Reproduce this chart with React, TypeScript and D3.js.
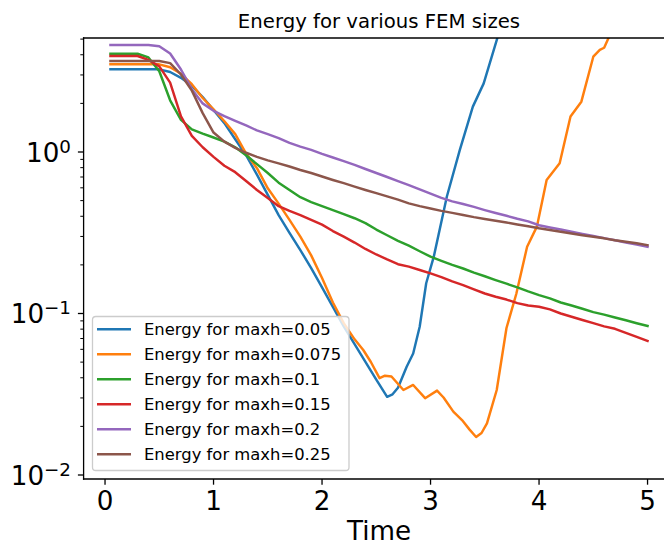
import React from "react";
import * as d3 from "d3";

// ---------- data ----------
const TIME = [
  0.05, 0.1, 0.2, 0.3, 0.4, 0.5, 0.6, 0.7, 0.8, 0.9,
  1.0, 1.1, 1.2, 1.3, 1.4, 1.5, 1.6, 1.7, 1.8, 1.9,
  2.0, 2.1, 2.2, 2.3, 2.4, 2.5, 2.6, 2.7, 2.8, 2.9,
  3.0, 3.1, 3.2, 3.3, 3.4, 3.5, 3.6, 3.7, 3.8, 3.9,
  4.0, 4.1, 4.2, 4.3, 4.4, 4.5, 4.6, 4.7, 4.8, 4.9, 5.0,
];

const TIME_005 = [
  0.05, 0.5, 0.6, 0.7, 0.8, 0.9, 1.0, 1.1, 1.2, 1.3, 1.4, 1.5, 1.6, 1.7, 1.8, 1.9,
  2.0, 2.1, 2.2, 2.3, 2.4, 2.5, 2.6, 2.65, 2.7, 2.78, 2.84, 2.9, 2.96, 3.03,
  3.15, 3.27, 3.39, 3.49, 3.61, 3.7,
];
const ENERGY_005 = [
  3.25, 3.25, 3.13, 2.88, 2.57, 2.19, 1.82, 1.51, 1.2, 0.955, 0.724, 0.543, 0.407, 0.316, 0.247, 0.191,
  0.145, 0.11, 0.0832, 0.0646, 0.0501, 0.0389, 0.0305, 0.0316, 0.0347, 0.0468, 0.0566, 0.0828, 0.154, 0.225,
  0.528, 1.03, 1.91, 2.66, 4.93, 7.94,
];

const TIME_0075 = [
  0.05, 0.5, 0.6, 0.7, 0.8, 0.9, 1.0, 1.1, 1.2, 1.3, 1.4, 1.5, 1.6, 1.7, 1.8, 1.9,
  2.0, 2.1, 2.2, 2.3, 2.38, 2.45, 2.53, 2.58, 2.64, 2.75, 2.84, 2.95, 3.06, 3.12,
  3.21, 3.29, 3.36, 3.42, 3.47, 3.52, 3.61, 3.7, 3.79, 3.89, 3.98, 4.07, 4.19,
  4.29, 4.39, 4.5, 4.56, 4.6, 4.65, 4.75,
];
const ENERGY_0075 = [
  3.49, 3.49, 3.35, 3.05, 2.63, 2.16, 1.84, 1.55, 1.29, 0.977, 0.794, 0.596, 0.479, 0.38, 0.299, 0.229,
  0.166, 0.117, 0.0871, 0.0692, 0.0594, 0.0501, 0.0398, 0.0412, 0.0407, 0.0336, 0.0361, 0.0299, 0.0333, 0.0302,
  0.0247, 0.0219, 0.0191, 0.0172, 0.0182, 0.0209, 0.0336, 0.0813, 0.132, 0.259, 0.345, 0.671, 0.851,
  1.66, 2.05, 3.89, 4.29, 4.42, 5.25, 7.94,
];

const ENERGY_01 = [
  4.06, 4.06, 4.06, 4.06, 3.85, 3.16, 2.09, 1.58, 1.38, 1.3,
  1.23, 1.16, 1.07, 0.955, 0.841, 0.741, 0.646, 0.582, 0.525, 0.49,
  0.462, 0.437, 0.412, 0.389, 0.363, 0.331, 0.305, 0.282, 0.263, 0.243,
  0.225, 0.212, 0.2, 0.19, 0.179, 0.17, 0.161, 0.153, 0.145, 0.137,
  0.13, 0.124, 0.117, 0.112, 0.107, 0.102, 0.0984, 0.0944, 0.0908, 0.0871, 0.0838,
];

const ENERGY_015 = [
  3.93, 3.93, 3.93, 3.93, 3.72, 3.39, 2.69, 1.66, 1.26, 1.07,
  0.933, 0.822, 0.75, 0.661, 0.582, 0.519, 0.462, 0.432, 0.407, 0.38,
  0.355, 0.324, 0.299, 0.275, 0.251, 0.232, 0.216, 0.202, 0.195, 0.186,
  0.177, 0.168, 0.158, 0.15, 0.141, 0.133, 0.127, 0.122, 0.116, 0.112,
  0.11, 0.106, 0.1, 0.0955, 0.0912, 0.0871, 0.0832, 0.0804, 0.0759, 0.0716, 0.0676,
];

const ENERGY_02 = [
  4.6, 4.6, 4.6, 4.6, 4.6, 4.52, 4.07, 3.24, 2.45, 2.0,
  1.8, 1.67, 1.56, 1.46, 1.36, 1.29, 1.22, 1.14, 1.08, 1.03,
  0.973, 0.925, 0.877, 0.832, 0.785, 0.741, 0.7, 0.661, 0.624, 0.586,
  0.552, 0.52, 0.495, 0.476, 0.457, 0.437, 0.419, 0.403, 0.386, 0.372,
  0.352, 0.341, 0.331, 0.321, 0.311, 0.302, 0.293, 0.284, 0.275, 0.267, 0.259,
];

const ENERGY_025 = [
  3.66, 3.66, 3.66, 3.66, 3.66, 3.66, 3.55, 3.02, 2.4, 1.74,
  1.32, 1.16, 1.06, 0.989, 0.933, 0.887, 0.851, 0.813, 0.774, 0.741,
  0.705, 0.671, 0.641, 0.611, 0.582, 0.556, 0.531, 0.507, 0.481, 0.462,
  0.447, 0.432, 0.42, 0.407, 0.395, 0.385, 0.375, 0.366, 0.356, 0.347,
  0.337, 0.329, 0.321, 0.313, 0.305, 0.299, 0.292, 0.284, 0.278, 0.272, 0.265,
];

const LABELS = [
  "Energy for maxh=0.05",
  "Energy for maxh=0.075",
  "Energy for maxh=0.1",
  "Energy for maxh=0.15",
  "Energy for maxh=0.2",
  "Energy for maxh=0.25",
];
const COLORS = ["#1f77b4", "#ff7f0e", "#2ca02c", "#d62728", "#9467bd", "#8c564b"];

const X_TICKS = [0, 1, 2, 3, 4, 5];
const Y_MAJOR = [0.01, 0.1, 1];
const Y_EXPONENTS = ["\u22122", "\u22121", "0"];

const TITLE = "Energy for various FEM sizes";
const X_LABEL = "Time";

// ---------- layout ----------
const W = 664;
const H = 543;
const LEFT = 83.6;
const RIGHT = 674.4;
const TOP = 38;
const BOTTOM = 479;
const FONT = "DejaVu Sans, sans-serif";

export default function App() {
  const x = d3.scaleLinear().domain([-0.1975, 5.2475]).range([LEFT, RIGHT]);
  const y = d3.scaleLog().domain([0.009446, 5.08]).range([BOTTOM, TOP]);

  const series = [
    { t: TIME_005, v: ENERGY_005 },
    { t: TIME_0075, v: ENERGY_0075 },
    { t: TIME, v: ENERGY_01 },
    { t: TIME, v: ENERGY_015 },
    { t: TIME, v: ENERGY_02 },
    { t: TIME, v: ENERGY_025 },
  ];

  const line = d3
    .line<[number, number]>()
    .x((d) => x(d[0]))
    .y((d) => y(d[1]));

  const minor: number[] = [];
  [0.01, 0.1, 1].forEach((base) => {
    for (let k = 2; k <= 9; k++) {
      const v = base * k;
      if (v < 5.08) minor.push(v);
    }
  });

  const legX = 92.5;
  const legY = 316.5;
  const rowH = 25;

  return (
    <svg width={W} height={H} style={{ display: "block", position: "absolute", left: 0, top: 0 }}>
      <rect x={0} y={0} width={W} height={H} fill="#fff" />
      <defs>
        <clipPath id="plotClip">
          <rect x={LEFT} y={TOP} width={RIGHT - LEFT} height={BOTTOM - TOP} />
        </clipPath>
      </defs>

      <g clipPath="url(#plotClip)">
        {series.map((s, i) => (
          <path
            key={i}
            d={line(s.t.map((t, j) => [t, s.v[j]] as [number, number])) || ""}
            fill="none"
            stroke={COLORS[i]}
            strokeWidth={2.46}
            strokeLinejoin="round"
            strokeLinecap="square"
          />
        ))}
      </g>

      {/* spines */}
      <g stroke="#000" strokeWidth={1.3} fill="none">
        <line x1={LEFT} y1={TOP} x2={LEFT} y2={BOTTOM} strokeLinecap="square" />
        <line x1={LEFT} y1={BOTTOM} x2={RIGHT} y2={BOTTOM} strokeLinecap="square" />
        <line x1={LEFT} y1={TOP} x2={RIGHT} y2={TOP} strokeLinecap="square" />
        <line x1={RIGHT} y1={TOP} x2={RIGHT} y2={BOTTOM} />
      </g>

      {/* x ticks */}
      {X_TICKS.map((t) => (
        <g key={t}>
          <line x1={x(t)} x2={x(t)} y1={BOTTOM} y2={BOTTOM + 5.7} stroke="#000" strokeWidth={1.3} />
          <text
            x={x(t)}
            y={510}
            textAnchor="middle"
            fontFamily={FONT}
            fontSize={26.2}
            fill="#000"
          >
            {t}
          </text>
        </g>
      ))}

      {/* y ticks */}
      {minor.map((v) => (
        <line key={"m" + v} x1={LEFT - 3.3} x2={LEFT} y1={y(v)} y2={y(v)} stroke="#000" strokeWidth={1.0} />
      ))}
      {Y_MAJOR.map((v, i) => (
        <g key={"M" + v}>
          <line x1={LEFT - 5.7} x2={LEFT} y1={y(v)} y2={y(v)} stroke="#000" strokeWidth={1.3} />
          <text
            x={71}
            y={y(v) + 9.7}
            textAnchor="end"
            fontFamily={FONT}
            fontSize={26.2}
            fill="#000"
          >
            10
            <tspan dy={-9} fontSize={18.3}>
              {Y_EXPONENTS[i]}
            </tspan>
          </text>
        </g>
      ))}

      {/* title and x label */}
      <text x={(LEFT + RIGHT) / 2} y={28} textAnchor="middle" fontFamily={FONT} fontSize={19.7} fill="#000">
        {TITLE}
      </text>
      <text x={(LEFT + RIGHT) / 2} y={540} textAnchor="middle" fontFamily={FONT} fontSize={26.2} fill="#000">
        {X_LABEL}
      </text>

      {/* legend */}
      <g>
        <rect
          x={legX}
          y={legY}
          width={256.5}
          height={154}
          rx={3.3}
          ry={3.3}
          fill="#fff"
          fillOpacity={0.8}
          stroke="#cccccc"
          strokeWidth={1.3}
        />
        {LABELS.map((lab, i) => {
          const cy = 329.3 + rowH * i;
          return (
            <g key={lab}>
              <line x1={97} x2={131} y1={cy} y2={cy} stroke={COLORS[i]} strokeWidth={2.46} />
              <text x={144} y={cy + 5.8} fontFamily={FONT} fontSize={16.4} fill="#000">
                {lab}
              </text>
            </g>
          );
        })}
      </g>
    </svg>
  );
}
